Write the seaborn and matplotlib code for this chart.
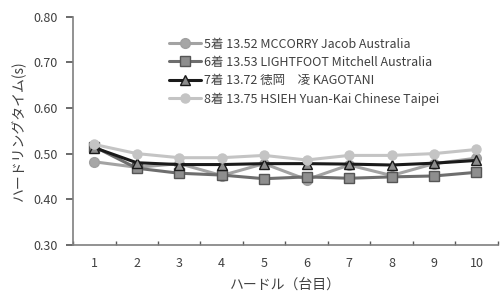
import matplotlib
matplotlib.use("Agg")
import matplotlib.pyplot as plt
import seaborn as sns

# データ
hurdles = [1, 2, 3, 4, 5, 6, 7, 8, 9, 10]
mccorry = [0.482, 0.470, 0.478, 0.452, 0.478, 0.443, 0.475, 0.452, 0.478, 0.490]
lightfoot = [0.515, 0.468, 0.457, 0.453, 0.445, 0.449, 0.446, 0.449, 0.451, 0.459]
kagotani = [0.513, 0.480, 0.476, 0.476, 0.478, 0.478, 0.477, 0.475, 0.479, 0.485]
hsieh = [0.520, 0.500, 0.491, 0.491, 0.496, 0.486, 0.496, 0.496, 0.500, 0.509]

labels = [
    "5着 13.52 MCCORRY Jacob Australia",
    "6着 13.53 LIGHTFOOT Mitchell Australia",
    "7着 13.72 徳岡\u3000凌 KAGOTANI",
    "8着 13.75 HSIEH Yuan-Kai Chinese Taipei",
]

sns.set_theme(style="ticks")
plt.rcParams['font.family'] = ['Noto Sans CJK JP', 'DejaVu Sans']
plt.rcParams['font.size'] = 9

fig = plt.figure(figsize=(5.04, 2.98), dpi=100)
ax = fig.add_axes([0.145, 0.178, 0.8425, 0.7665])

# 系列ごとのスタイル
styles = [
    dict(color='#a3a3a3', marker='o', mfc='#a6a6a6', mec='#a0a0a0', ms=7),
    dict(color='#6e6e6e', marker='s', mfc='#8e8e8e', mec='#555555', ms=6.5),
    dict(color='#1a1a1a', marker='^', mfc='#8c8c8c', mec='#1a1a1a', ms=7),
    dict(color='#c4c4c4', marker='o', mfc='#c4c4c4', mec='#c4c4c4', ms=6.5),
]

for vals, lab, st in zip([mccorry, lightfoot, kagotani, hsieh], labels, styles):
    sns.lineplot(x=hurdles, y=vals, ax=ax, label=lab, color=st['color'],
                 marker=st['marker'], markersize=st['ms'],
                 markerfacecolor=st['mfc'], markeredgecolor=st['mec'],
                 markeredgewidth=1.0, linewidth=2.2)

ax.set_xlim(0.5, 10.5)
ax.set_ylim(0.30, 0.80)
ax.set_xticks(hurdles)
ax.set_xticks([h + 0.5 for h in [0] + hurdles], minor=True)
ax.set_yticks([0.30, 0.40, 0.50, 0.60, 0.70, 0.80])
ax.set_yticklabels([f"{v:.2f}" for v in [0.30, 0.40, 0.50, 0.60, 0.70, 0.80]])

ax.tick_params(axis='x', which='major', length=0, pad=9, labelsize=9, labelcolor='#404040')
ax.tick_params(axis='x', which='minor', direction='in', length=3, color='#595959')
ax.tick_params(axis='y', direction='out', length=5, color='#595959', labelsize=9,
               labelcolor='#404040', pad=6)

for s in ['top', 'right']:
    ax.spines[s].set_visible(False)
for s in ['left', 'bottom']:
    ax.spines[s].set_color('#7f7f7f')
    ax.spines[s].set_linewidth(1.2)

ax.set_xlabel("ハードル（台目）", fontsize=10, color='#404040', labelpad=5)
ax.set_ylabel("ハードリングタイム(s)", fontsize=10, color='#404040', labelpad=5)

leg = ax.legend(loc='upper left', bbox_to_anchor=(0.213, 0.93), frameon=False,
                fontsize=9, handlelength=2.6, handletextpad=0.2, labelspacing=0.42,
                borderaxespad=0)
for t in leg.get_texts():
    t.set_color('#404040')

fig.savefig("out.png", dpi=100)
